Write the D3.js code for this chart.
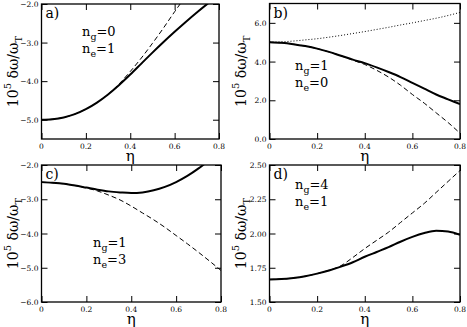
<!DOCTYPE html>
<html><head><meta charset="utf-8">
<script src="https://cdn.jsdelivr.net/npm/d3@7"></script>
<style>body{margin:0;background:#fff}svg{display:block}svg text{font-family:"DejaVu Serif",serif}</style>
</head><body><svg id="c" width="467" height="327"></svg>
<script>
const eta = [0,0.05,0.1,0.15,0.2,0.25,0.3,0.35,0.4,0.45,0.5,0.55,0.6,0.65,0.7,0.75,0.8];
const xTicks = [0,0.2,0.4,0.6,0.8];
const xTickLabels = ["0","0.2","0.4","0.6","0.8"];
// panel a
const aSolid = [-5.0,-4.985,-4.94,-4.855,-4.725,-4.555,-4.345,-4.1,-3.83,-3.545,-3.26,-2.985,-2.72,-2.465,-2.22,-1.985,-1.76];
const aDashed = [-5.0,-4.985,-4.94,-4.855,-4.725,-4.555,-4.34,-4.07,-3.75,-3.4,-3.02,-2.62,-2.2,-1.8,-1.4,-1.0,-0.6];
const aYTicks = [-5.0,-4.0,-3.0,-2.0];
// panel b
const bSolid = [5.0,4.97,4.9,4.8,4.67,4.5,4.3,4.1,3.92,3.7,3.46,3.2,2.9,2.6,2.3,2.05,1.8];
const bDashed = [5.0,4.97,4.9,4.8,4.67,4.5,4.3,4.07,3.85,3.55,3.2,2.78,2.3,1.85,1.35,0.85,0.3];
const bDotted = [5.0,5.02,5.06,5.12,5.18,5.26,5.35,5.45,5.55,5.66,5.77,5.89,6.0,6.12,6.24,6.38,6.54];
const bYTicks = [0.0,2.0,4.0,6.0];
// panel c
const cSolid = [-2.5,-2.52,-2.55,-2.6,-2.66,-2.72,-2.77,-2.8,-2.82,-2.8,-2.74,-2.64,-2.5,-2.32,-2.1,-1.85,-1.6];
const cDashed = [-2.5,-2.52,-2.55,-2.6,-2.67,-2.76,-2.88,-3.02,-3.2,-3.4,-3.6,-3.82,-4.06,-4.3,-4.55,-4.81,-5.08];
const cYTicks = [-6.0,-5.0,-4.0,-3.0,-2.0];
// panel d
const dSolid = [1.665,1.667,1.675,1.688,1.707,1.73,1.758,1.79,1.83,1.865,1.9,1.94,1.975,2.003,2.02,2.015,1.99];
const dDashed = [1.665,1.667,1.675,1.688,1.707,1.732,1.765,1.825,1.89,1.95,2.01,2.08,2.15,2.22,2.3,2.38,2.46];
const dYTicks = [1.50,1.75,2.00,2.25,2.50];

const panels = [
  {id:"a", x0:41.5, x1:219, y0:4, y1:139, ydom:[-5.5,-2.0], yt:aYTicks, fmt:d3.format(".1f"), minorStep:0.5,
   series:[{v:aSolid,s:"solid"},{v:aDashed,s:"dashed"}], ann:["0","1"], ax:82, ay:36},
  {id:"b", x0:269.5, x1:460, y0:3.5, y1:139, ydom:[0,7], yt:bYTicks, fmt:d3.format(".1f"), minorStep:1,
   series:[{v:bSolid,s:"solid"},{v:bDashed,s:"dashed"},{v:bDotted,s:"dotted"}], ann:["1","0"], ax:295, ay:70},
  {id:"c", x0:41.5, x1:221, y0:165, y1:302, ydom:[-6,-2], yt:cYTicks, fmt:d3.format(".1f"), minorStep:0.5,
   series:[{v:cSolid,s:"solid"},{v:cDashed,s:"dashed"}], ann:["1","3"], ax:93, ay:247},
  {id:"d", x0:269.5, x1:460, y0:165, y1:302, ydom:[1.5,2.5], yt:dYTicks, fmt:d3.format(".2f"), minorStep:0.125,
   series:[{v:dSolid,s:"solid"},{v:dDashed,s:"dashed"}], ann:["4","1"], ax:295, ay:189}
];

const svg = d3.select("#c");
panels.forEach(p => {
  const x = d3.scaleLinear().domain([0,0.8]).range([p.x0,p.x1]);
  const y = d3.scaleLinear().domain(p.ydom).range([p.y1,p.y0]);
  const g = svg.append("g");
  const clipId = "clip"+p.id;
  svg.append("clipPath").attr("id",clipId).append("rect")
    .attr("x",p.x0).attr("y",p.y0).attr("width",p.x1-p.x0).attr("height",p.y1-p.y0);
  const line = d3.line().x((d,i)=>x(eta[i])).y(d=>y(d)).curve(d3.curveMonotoneX);
  const cg = g.append("g").attr("clip-path",`url(#${clipId})`);
  p.series.forEach(s => {
    const path = cg.append("path").datum(s.v).attr("d",line).attr("fill","none").attr("stroke","#000");
    if (s.s==="solid") path.attr("stroke-width",2);
    if (s.s==="dashed") path.attr("stroke-width",1).attr("stroke-dasharray","5,3");
    if (s.s==="dotted") path.attr("stroke-width",1).attr("stroke-dasharray","1,2");
  });
  const minorX = d3.range(0,0.8001,0.1);
  const nMinorY = Math.round((p.ydom[1]-p.ydom[0])/p.minorStep);
  const minorY = d3.range(0,nMinorY+1).map(i=>p.ydom[0]+i*p.minorStep);
  const mk = (axisFn, scale, vals, size) => axisFn(scale).tickValues(vals).tickSize(size).tickFormat("");
  const bottom = g.append("g").attr("transform",`translate(0,${p.y1})`);
  bottom.call(mk(d3.axisTop,x,minorX,3));
  bottom.call(mk(d3.axisTop,x,xTicks,6));
  const top = g.append("g").attr("transform",`translate(0,${p.y0})`);
  top.call(mk(d3.axisBottom,x,minorX,3));
  top.call(mk(d3.axisBottom,x,xTicks,6));
  const left = g.append("g").attr("transform",`translate(${p.x0},0)`);
  left.call(mk(d3.axisRight,y,minorY,3));
  left.call(mk(d3.axisRight,y,p.yt,6));
  const right = g.append("g").attr("transform",`translate(${p.x1},0)`);
  right.call(mk(d3.axisLeft,y,minorY,3));
  right.call(mk(d3.axisLeft,y,p.yt,6));
  g.selectAll(".domain").remove();
  g.selectAll(".tick line").attr("stroke","#000").attr("stroke-width",1);
  g.append("rect").attr("x",p.x0).attr("y",p.y0).attr("width",p.x1-p.x0).attr("height",p.y1-p.y0)
    .attr("fill","none").attr("stroke","#000").attr("stroke-width",1.3);
  g.selectAll(".xl").data(xTicks).enter().append("text")
    .attr("x",d=>x(d)).attr("y",p.y1+9.5).attr("text-anchor","middle").attr("font-size",7.5).text((d,i)=>xTickLabels[i]);
  g.selectAll(".yl").data(p.yt).enter().append("text")
    .attr("x",p.x0-3).attr("y",d=>y(d)+3).attr("text-anchor","end").attr("font-size",7.5).text(d=>p.fmt(d));
  g.append("text").attr("x",(p.x0+p.x1)/2).attr("y",p.y1+22).attr("text-anchor","middle").attr("font-size",15).text("η");
  const yl = g.append("text").attr("transform",`translate(${p.x0-24},${(p.y0+p.y1)/2}) rotate(-90)`)
    .attr("text-anchor","middle").attr("font-size",14);
  yl.append("tspan").text("10");
  yl.append("tspan").attr("dy",-7).attr("font-size",10).text("5");
  yl.append("tspan").attr("dy",7).text(" δω/ω");
  yl.append("tspan").attr("dy",4).attr("font-size",10).text("T");
  g.append("text").attr("x",p.x0+4).attr("y",p.y0+14).attr("font-size",14).text(p.id+")");
  const a1 = g.append("text").attr("x",p.ax).attr("y",p.ay).attr("font-size",13);
  a1.append("tspan").text("n");
  a1.append("tspan").attr("dy",4).attr("font-size",9.5).text("g");
  a1.append("tspan").attr("dy",-4).text("="+p.ann[0]);
  const a2 = g.append("text").attr("x",p.ax).attr("y",p.ay+17).attr("font-size",13);
  a2.append("tspan").text("n");
  a2.append("tspan").attr("dy",4).attr("font-size",9.5).text("e");
  a2.append("tspan").attr("dy",-4).text("="+p.ann[1]);
});
</script></body></html>
